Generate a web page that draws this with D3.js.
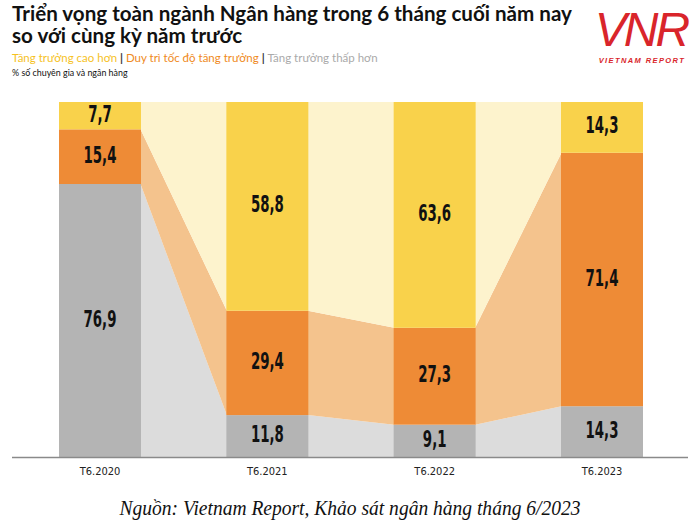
<!DOCTYPE html>
<html><head><meta charset="utf-8">
<script src="https://cdn.jsdelivr.net/npm/d3@7"></script>
<style>body{margin:0;background:#fff;}svg{display:block;}</style>
</head><body>
<svg id="c" width="700" height="522"></svg>
<script>
const categories = ["T6.2020","T6.2021","T6.2022","T6.2023"];
const seriesNames = ["Tăng trưởng thấp hơn","Duy trì tốc độ tăng trưởng","Tăng trưởng cao hơn"];
const lower  = [76.9, 11.8, 9.1, 14.3];
const keep   = [15.4, 29.4, 27.3, 71.4];
const higher = [7.7, 58.8, 63.6, 14.3];
const labels = [["76,9","11,8","9,1","14,3"],["15,4","29,4","27,3","71,4"],["7,7","58,8","63,6","14,3"]];

const colors = ["#b4b4b4","#ee8b36","#f9d24b"];
const light  = ["#dcdcdc","#f4c38d","#fdf3cd"];

const svg = d3.select("#c");
const x = d3.scaleBand().domain(categories).range([59,643]).paddingInner(0.51).paddingOuter(0);
const y = d3.scaleLinear().domain([0,100]).range([457,102]);

const rows = categories.map((c,i)=>({c, v:[lower[i],keep[i],higher[i]]}));
const stack = d3.stack().keys([0,1,2]).value((d,k)=>d.v[k])(rows);

// connecting areas
stack.forEach((layer,k)=>{
  for(let i=0;i<categories.length-1;i++){
    const a=layer[i], b=layer[i+1];
    const x0=x(categories[i])+x.bandwidth(), x1=x(categories[i+1]);
    const pts=[[x0-0.5,y(a[1])],[x1+0.5,y(b[1])],[x1+0.5,y(b[0])],[x0-0.5,y(a[0])]];
    svg.append("path").attr("d",d3.line()(pts)+"Z").attr("fill",light[k]);
  }
});
// bars
const lf="'DejaVu Sans',sans-serif";
stack.forEach((layer,k)=>{
  svg.selectAll(null).data(layer).enter().append("rect")
    .attr("x",d=>x(d.data.c)).attr("width",x.bandwidth())
    .attr("y",d=>y(d[1])).attr("height",d=>y(d[0])-y(d[1]))
    .attr("fill",colors[k]);
  svg.selectAll(null).data(layer).enter().append("text")
    .attr("transform",d=>`translate(${x(d.data.c)+x.bandwidth()/2},${(y(d[0])+y(d[1]))/2+6}) scale(0.58,1)`)
    .attr("text-anchor","middle")
    .attr("font-family",lf)
    .attr("font-weight","bold").attr("font-size",23).attr("fill","#111")
    .text((d,i)=>labels[k][i]);
});
// axis
const ax = svg.append("g").attr("transform","translate(0,457)")
  .call(d3.axisBottom(x).tickSize(0).tickPadding(10));
ax.select(".domain").attr("d","M12,0.5H688").attr("stroke","#8a8a8a").attr("stroke-width",1.5);
ax.selectAll("text").attr("font-family","'DejaVu Sans Condensed','DejaVu Sans',sans-serif")
  .attr("font-size",11).attr("fill","#222");

// title
const tf="'Lato','Noto Sans',sans-serif";
svg.append("text").attr("x",12).attr("y",21).attr("font-family",tf).attr("font-weight","bold")
  .attr("font-size",20.6).attr("fill","#111").text("Triển vọng toàn ngành Ngân hàng trong 6 tháng cuối năm nay");
svg.append("text").attr("x",12).attr("y",43).attr("font-family",tf).attr("font-weight","bold")
  .attr("font-size",20.6).attr("fill","#111").text("so với cùng kỳ năm trước");
const lg = svg.append("text").attr("x",12).attr("y",62).attr("font-family",tf).attr("font-size",11.5);
lg.append("tspan").attr("fill","#f6c21f").text("Tăng trưởng cao hơn ");
lg.append("tspan").attr("fill","#333").attr("font-weight","bold").text("| ");
lg.append("tspan").attr("fill","#ef8a22").text("Duy trì tốc độ tăng trưởng ");
lg.append("tspan").attr("fill","#333").attr("font-weight","bold").text("| ");
lg.append("tspan").attr("fill","#aaaaaa").text("Tăng trưởng thấp hơn");
svg.append("text").attr("x",12).attr("y",76).attr("font-family",tf).attr("font-size",8.9)
  .attr("fill","#111").text("% số chuyên gia và ngân hàng");

// source
svg.append("text").attr("transform","translate(350,515) scale(0.93,1)").attr("text-anchor","middle")
  .attr("font-family","'Liberation Serif',serif").attr("font-style","italic").attr("font-size",21)
  .attr("fill","#111").text("Nguồn: Vietnam Report, Khảo sát ngân hàng tháng 6/2023");

// logo
const lgG = svg.append("g");
lgG.append("text").attr("x",641).attr("y",46).attr("text-anchor","middle")
  .attr("font-family","'Liberation Sans',sans-serif").attr("font-style","italic")
  .attr("font-size",48).attr("fill","#d9252b").attr("letter-spacing",-3).text("VNR");
lgG.append("text").attr("x",642).attr("y",63).attr("text-anchor","middle")
  .attr("font-family","'Liberation Sans',sans-serif").attr("font-style","italic").attr("font-weight","bold")
  .attr("font-size",7.5).attr("fill","#d9252b").attr("letter-spacing",1.4).text("VIETNAM REPORT");
</script>
</body></html>
